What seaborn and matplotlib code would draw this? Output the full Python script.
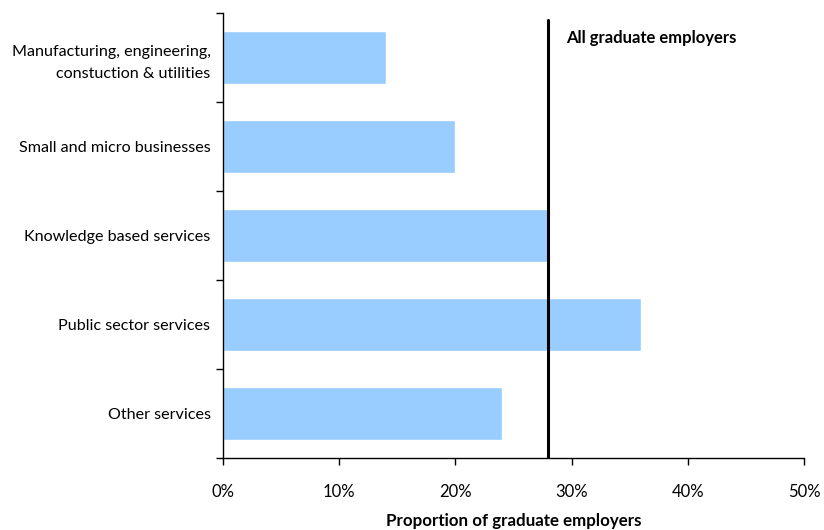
import matplotlib
matplotlib.use("Agg")
import matplotlib.pyplot as plt
import seaborn as sns
import pandas as pd

categories = [
    "Manufacturing, engineering,\nconstuction & utilities",
    "Small and micro businesses",
    "Knowledge based services",
    "Public sector services",
    "Other services",
]
shares = [14.0, 20.0, 28.0, 36.0, 24.0]
all_employers = 28.0
x_ticks = [0, 10, 20, 30, 40, 50]

sns.set_theme(style="white")
plt.rcParams["font.family"] = ["Lato", "DejaVu Sans"]
plt.rcParams["text.color"] = "black"
plt.rcParams["axes.labelcolor"] = "black"
plt.rcParams["xtick.color"] = "black"
plt.rcParams["ytick.color"] = "black"

df = pd.DataFrame({"sector": categories, "share": shares})

fig = plt.figure(figsize=(8.24, 5.30), dpi=100)
ax = fig.add_axes([223 / 824, 1 - 458 / 530, (804 - 223) / 824, (458 - 13) / 530])

sns.barplot(data=df, y="sector", x="share", orient="h", color="#99CCFF",
            saturation=1, width=0.6, ax=ax)

ax.axvline(all_employers, ymin=0, ymax=(458 - 20) / (458 - 13), color="black", lw=2.2)
ax.text(all_employers + 1.55, -0.22, "All graduate employers", fontsize=12,
        fontweight="bold", va="center", ha="left", color="black")

ax.set_xlim(0, 50)
ax.set_ylim(len(categories) - 0.5, -0.5)
ax.set_xticks(x_ticks)
ax.set_xticklabels([f"{t}%" for t in x_ticks], fontsize=12)
ax.set_yticks([i - 0.5 for i in range(len(categories) + 1)], minor=True)
ax.set_yticks(range(len(categories)))
ax.set_yticklabels(categories, fontsize=11.6, linespacing=1.75)
ax.tick_params(axis="y", which="major", left=False, length=0, pad=9,
               labelcolor="black")
ax.tick_params(axis="y", which="minor", left=True, length=5, width=1,
               color="black", direction="out")
ax.tick_params(axis="x", which="major", bottom=True, length=5, width=1,
               color="black", direction="out", pad=14, labelcolor="black")
ax.set_xlabel("Proportion of graduate employers", fontsize=12.2, fontweight="bold",
              labelpad=9, color="black")
ax.set_ylabel("")

for side in ("top", "right"):
    ax.spines[side].set_visible(False)
for side in ("left", "bottom"):
    ax.spines[side].set_color("black")
    ax.spines[side].set_linewidth(1)

fig.savefig("out.png", dpi=100)
